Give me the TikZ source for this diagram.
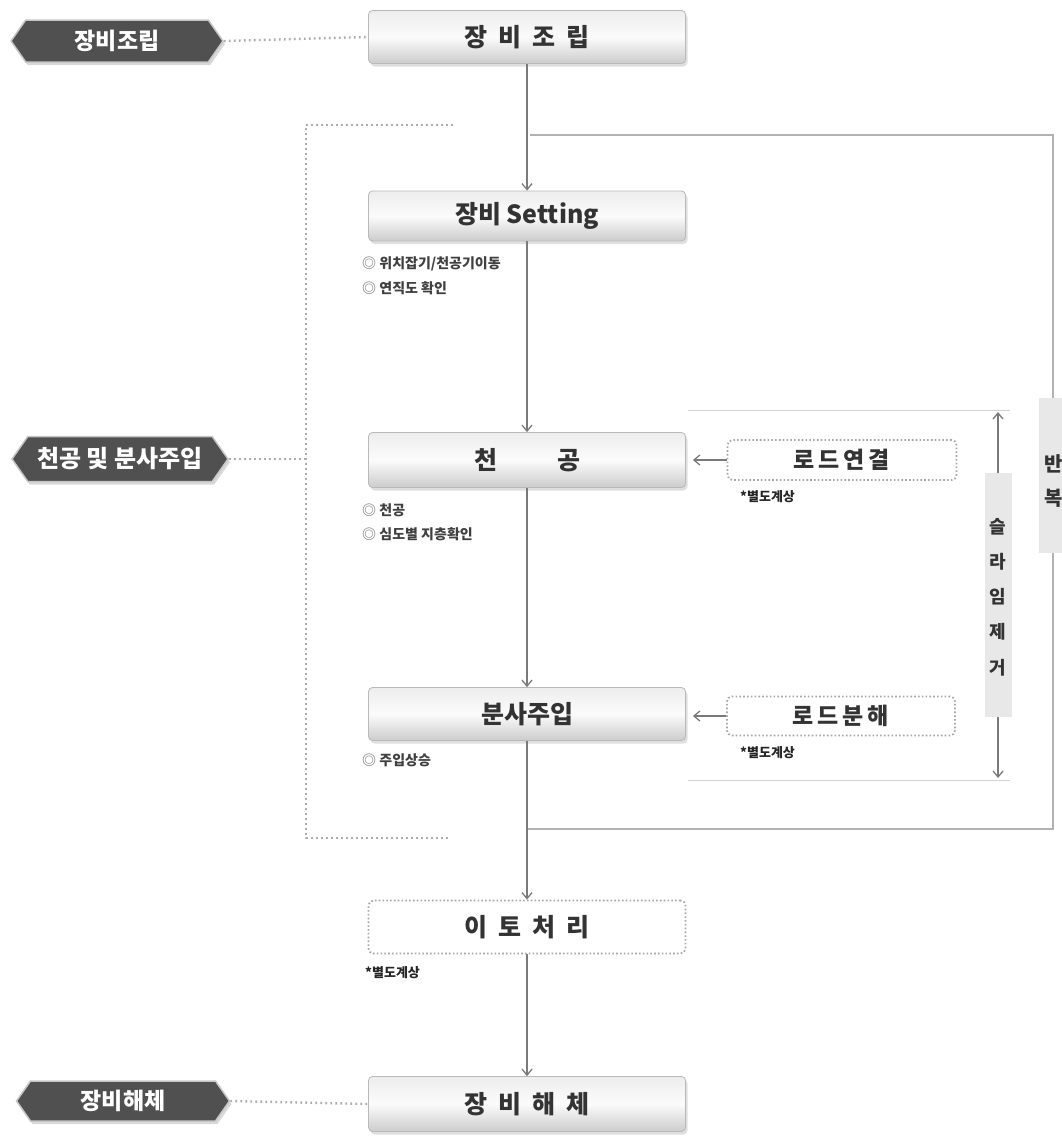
\documentclass[tikz,border=0pt]{standalone}
\usepackage{fontspec}
\setmainfont{Noto Sans CJK KR}
\usetikzlibrary{arrows.meta,shapes.symbols,shadows}
\definecolor{tagfill}{HTML}{505050}
\definecolor{linec}{HTML}{7A7A7A}
\newcommand{\gp}{\hspace{11pt}}
\begin{document}
\begin{tikzpicture}[x=1pt,y=-1pt,
  mainbox/.style={draw=gray!55, line width=0.8pt, rounded corners=4pt,
    minimum width=317pt, minimum height=53pt, inner sep=0pt,
    top color=gray!14, bottom color=gray!40, middle color=gray!3,
    drop shadow={shadow xshift=2pt, shadow yshift=-3pt, opacity=0.25},
    font=\fontsize{25}{30}\selectfont\bfseries, text=black!80},
  dotbox/.style={draw=gray!70, line width=1.8pt, dash pattern=on 1.6pt off 2.2pt, rounded corners=5pt,
    fill=white, inner sep=0pt, font=\fontsize{23}{28}\selectfont\bfseries, text=black!80},
  tagbox/.style={signal, signal to=west and east, signal pointer angle=110,
    fill=tagfill, draw=gray!45, line width=1.5pt, inner sep=0pt,
    drop shadow={shadow xshift=2pt, shadow yshift=-3pt, opacity=0.3},
    text=white, font=\fontsize{23}{28}\selectfont\bfseries},
  flow/.style={draw=linec, line width=1.3pt, -{Straight Barb[length=6pt,width=10pt]}},
  dotlink/.style={draw=gray!65, line width=2.4pt, dash pattern=on 1.8pt off 3.2pt},
  loopline/.style={draw=gray!60, line width=1.4pt},
  note/.style={anchor=west, inner sep=0pt, font=\fontsize{14}{17}\selectfont\bfseries, text=black!75},
  star/.style={anchor=west, inner sep=0pt, font=\fontsize{13}{16}\selectfont\bfseries, text=black!85},
  vlabel/.style={inner sep=0pt, font=\fontsize{18}{21}\selectfont\bfseries, text=black!80}
]
\useasboundingbox (0,0) rectangle (1062,1138);

% left dotted bracket
\coordinate (br1) at (453,125);
\coordinate (br2) at (306,125);
\coordinate (br3) at (306,838);
\coordinate (br4) at (449,838);
\coordinate (brm) at (306,459);
\draw[dotlink] (br1) -- (br2) -- (br3) -- (br4);

% repeat loop
\coordinate (lp1) at (527,829);
\coordinate (lp2) at (1053,829);
\coordinate (lp3) at (1053,135);
\coordinate (lp4) at (530,135);
\draw[loopline] (lp1) -- (lp2) -- (lp3) -- (lp4);
\fill[gray!18] (1039,398) rectangle (1080,553);
\node[vlabel, font=\fontsize{20}{23}\selectfont\bfseries] (rep1) at (1054,464) {반};
\node[vlabel, font=\fontsize{20}{23}\selectfont\bfseries] (rep2) at (1054,498) {복};

% slime removal region
\coordinate (sl1) at (688,410);
\coordinate (sl2) at (1010,410);
\coordinate (sl3) at (688,780);
\coordinate (sl4) at (1010,780);
\draw[gray!35, line width=1pt] (sl1) -- (sl2);
\draw[gray!35, line width=1pt] (sl3) -- (sl4);
\coordinate (sa1) at (998,412);
\coordinate (sa2) at (998,778);
\draw[draw=linec, line width=1.3pt, {Straight Barb[length=6pt,width=10pt]}-{Straight Barb[length=6pt,width=10pt]}] (sa2) -- (sa1);
\fill[gray!18] (985,473) rectangle (1012,717);
\node[vlabel] (s1) at (998,527) {슬};
\node[vlabel] (s2) at (998,562) {라};
\node[vlabel] (s3) at (998,597) {임};
\node[vlabel] (s4) at (998,632) {제};
\node[vlabel] (s5) at (998,668) {거};

% main boxes
\node[mainbox] (b1) at (527,37) {장\gp 비\gp 조\gp 립};
\node[mainbox, minimum height=50pt] (b2) at (527,216) {장비 Setting};
\node[mainbox, minimum height=55pt] (b3) at (527,460) {천\hspace{60pt}공};
\node[mainbox] (b4) at (527,714) {분사주입};
\node[dotbox, minimum width=317pt, minimum height=53pt, font=\fontsize{25}{30}\selectfont\bfseries] (b5) at (527,927) {이\gp 토\gp 처\gp 리};
\node[mainbox, minimum height=55pt] (b6) at (527,1104) {장\gp 비\gp 해\gp 체};

% side dotted boxes
\node[dotbox, minimum width=229pt, minimum height=40pt] (r1) at (842,460) {로\,드\,연\,결};
\node[dotbox, minimum width=228pt, minimum height=39pt] (r2) at (841,716) {로\,드\,분\,해};

% tags
\node[tagbox, minimum width=212pt, minimum height=42pt] (t1) at (117,41) {장비조립};
\node[tagbox, minimum width=216pt, minimum height=45pt, font=\fontsize{24}{28}\selectfont\bfseries] (t2) at (120,459) {천공 및 분사주입};
\node[tagbox, minimum width=213pt, minimum height=40pt] (t3) at (123,1101) {장비해체};

% dotted links
\draw[dotlink] (t1.east) -- (b1.west);
\draw[dotlink] (t2.east) -- (brm);
\draw[dotlink] (t3.east) -- (b6.west);

% flow arrows
\draw[flow] (b1.south) -- (b2.north);
\draw[flow] (b2.south) -- (b3.north);
\draw[flow] (b3.south) -- (b4.north);
\draw[flow] (b4.south) -- (b5.north);
\draw[flow] (b5.south) -- (b6.north);
\draw[flow, shorten >=7pt] (r1.west) -- (r1.west -| b3.east);
\draw[flow, shorten >=7pt] (r2.west) -- (r2.west -| b4.east);

% notes
\node[note] (n1) at (362,264) {{\color{gray}◎} 위치잡기/천공기이동};
\node[note] (n2) at (362,288) {{\color{gray}◎} 연직도 확인};
\node[note] (n3) at (362,510) {{\color{gray}◎} 천공};
\node[note] (n4) at (362,534) {{\color{gray}◎} 심도별 지층확인};
\node[note] (n5) at (362,760) {{\color{gray}◎} 주입상승};
\node[star] (e1) at (740,497) {*별도계상};
\node[star] (e2) at (740,753) {*별도계상};
\node[star] (e3) at (365,973) {*별도계상};
\end{tikzpicture}
\end{document}
